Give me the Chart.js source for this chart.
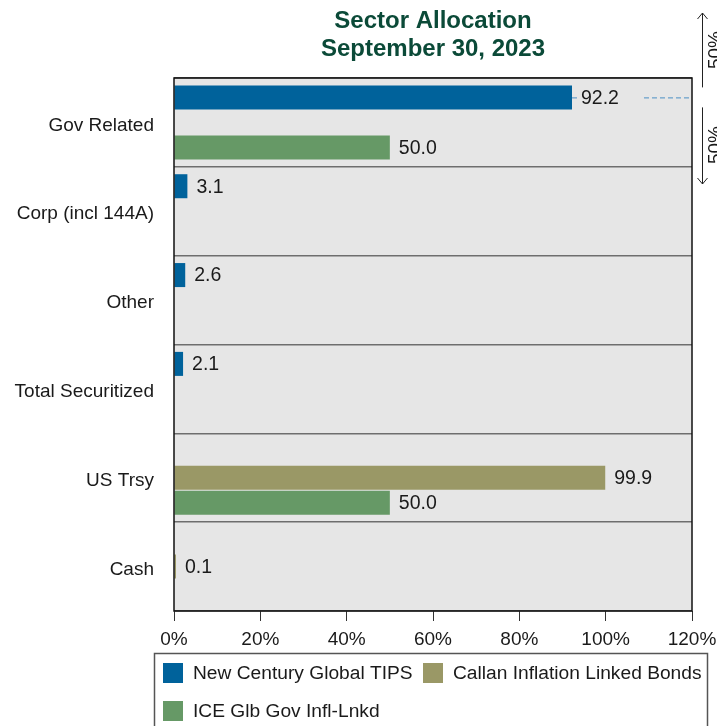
<!DOCTYPE html>
<html>
<head>
<meta charset="utf-8">
<script src="https://cdn.jsdelivr.net/npm/chart.js@4.4.0/dist/chart.umd.min.js"></script>
<style>
html,body{margin:0;padding:0;background:#fff;}
#wrap{width:717px;height:726px;position:relative;overflow:hidden;}
</style>
</head>
<body>
<div id="wrap"><canvas id="c" width="717" height="726"></canvas></div>
<script>
const titleLines = ['Sector Allocation', 'September 30, 2023'];
const categories = ['Gov Related', 'Corp (incl 144A)', 'Other', 'Total Securitized', 'US Trsy', 'Cash'];
const seriesNames = ['New Century Global TIPS', 'Callan Inflation Linked Bonds', 'ICE Glb Gov Infl-Lnkd'];
const newCentury = [92.2, 3.1, 2.6, 2.1, null, null];
const callan = [null, null, null, null, 99.9, 0.1];
const iceIndex = [50.0, null, null, null, 50.0, null];
const xTicks = [0, 20, 40, 60, 80, 100, 120];
const colors = ['#00629b', '#9a9866', '#669966'];
const annotationText = '50%';

const FONT = '"Liberation Sans", Arial, sans-serif';
const BG = '#e6e6e6';

const framePlugin = {
  id: 'frame',
  beforeDraw(chart) {
    const ctx = chart.ctx, a = chart.chartArea;
    ctx.save();
    ctx.fillStyle = '#fff';
    ctx.fillRect(0, 0, chart.width, chart.height);
    ctx.fillStyle = BG;
    ctx.fillRect(a.left, a.top, a.right - a.left, a.bottom - a.top);
    // title
    ctx.fillStyle = '#0b4a38';
    ctx.font = 'bold 24px ' + FONT;
    ctx.textAlign = 'center';
    ctx.textBaseline = 'middle';
    const cx = (a.left + a.right) / 2;
    ctx.fillText(titleLines[0], cx, 21);
    ctx.fillText(titleLines[1], cx, 49);
    ctx.restore();
  },
  afterDatasetsDraw(chart) {
    const ctx = chart.ctx, a = chart.chartArea;
    ctx.save();
    // dashed reference line for first bar
    const m0 = chart.getDatasetMeta(0).data[0];
    ctx.strokeStyle = '#4a8fc4';
    ctx.lineWidth = 1;
    ctx.setLineDash([5, 3]);
    ctx.beginPath();
    ctx.moveTo(m0.x, m0.y + 0.5);
    ctx.lineTo(a.right, m0.y + 0.5);
    ctx.stroke();
    ctx.setLineDash([]);
    ctx.fillStyle = BG;
    ctx.fillRect(m0.x + 8, m0.y - 11, 62, 22);
    // value labels
    ctx.font = '19.5px ' + FONT;
    ctx.fillStyle = '#1a1a1a';
    ctx.textAlign = 'left';
    ctx.textBaseline = 'middle';
    chart.data.datasets.forEach((ds, di) => {
      const meta = chart.getDatasetMeta(di);
      ds.data.forEach((v, i) => {
        if (v === null || v === undefined) return;
        const el = meta.data[i];
        ctx.fillText(v.toFixed(1), el.x + 9, el.y + 1);
      });
    });
    // frame
    ctx.strokeStyle = '#111';
    ctx.lineWidth = 1.5;
    ctx.strokeRect(a.left, a.top, a.right - a.left, a.bottom - a.top);
    // arrows on the right
    const ax = a.right + 10.5;
    ctx.strokeStyle = '#222';
    ctx.lineWidth = 1;
    ctx.beginPath();
    ctx.moveTo(ax, 13); ctx.lineTo(ax, m0.y - 10);
    ctx.moveTo(ax - 5, 19); ctx.lineTo(ax, 13); ctx.lineTo(ax + 5, 19);
    ctx.moveTo(ax, m0.y + 10); ctx.lineTo(ax, 184);
    ctx.moveTo(ax - 5, 178); ctx.lineTo(ax, 184); ctx.lineTo(ax + 5, 178);
    ctx.stroke();
    ctx.fillStyle = '#1a1a1a';
    ctx.font = '19px ' + FONT;
    ctx.textAlign = 'center';
    ctx.textBaseline = 'middle';
    [50, 145].forEach(y => {
      ctx.save();
      ctx.translate(a.right + 24, y);
      ctx.rotate(-Math.PI / 2);
      ctx.fillText(annotationText, 0, 0);
      ctx.restore();
    });
    // legend
    ctx.strokeStyle = '#555';
    ctx.lineWidth = 1.5;
    ctx.strokeRect(154.5, 653.5, 553, 120);
    const items = [
      {x: 163, y: 663, tx: 193, ty: 674},
      {x: 423, y: 663, tx: 453, ty: 674},
      {x: 163, y: 701, tx: 193, ty: 712}
    ];
    ctx.font = '19.2px ' + FONT;
    ctx.textAlign = 'left';
    chart.data.datasets.forEach((ds, di) => {
      const it = items[di];
      ctx.fillStyle = ds.backgroundColor;
      ctx.fillRect(it.x, it.y, 20, 20);
      ctx.fillStyle = '#1a1a1a';
      ctx.fillText(ds.label, it.tx, it.ty);
    });
    ctx.restore();
  }
};

new Chart(document.getElementById('c'), {
  type: 'bar',
  data: {
    labels: categories,
    datasets: [
      {label: seriesNames[0], data: newCentury, backgroundColor: colors[0]},
      {label: seriesNames[1], data: callan, backgroundColor: colors[1]},
      {label: seriesNames[2], data: iceIndex, backgroundColor: colors[2]}
    ]
  },
  options: {
    indexAxis: 'y',
    responsive: false,
    animation: false,
    devicePixelRatio: 1,
    categoryPercentage: 0.845,
    barPercentage: 0.96,
    minBarLength: 2,
    layout: {padding: {left: 0, right: 25, top: 78, bottom: 0}},
    plugins: {legend: {display: false}, title: {display: false}, tooltip: {enabled: false}},
    scales: {
      x: {
        min: 0, max: 120,
        afterBuildTicks(s) { s.ticks = xTicks.map(v => ({value: v})); },
        afterFit(s) { s.height = 115; s.paddingLeft = 0; s.paddingRight = 0; },
        border: {display: false},
        grid: {drawOnChartArea: false, drawTicks: true, tickLength: 10, color: '#333', lineWidth: 1},
        ticks: {
          padding: 7,
          color: '#1a1a1a',
          font: {family: FONT, size: 19},
          callback: v => v + '%'
        }
      },
      y: {
        afterFit(s) { s.width = 174; },
        border: {display: false},
        grid: {offset: true, drawTicks: false, color: '#6e6e6e', lineWidth: 1.5},
        ticks: {
          padding: 20,
          labelOffset: 3,
          color: '#1a1a1a',
          font: {family: FONT, size: 19}
        }
      }
    }
  },
  plugins: [framePlugin]
});
</script>
</body>
</html>
